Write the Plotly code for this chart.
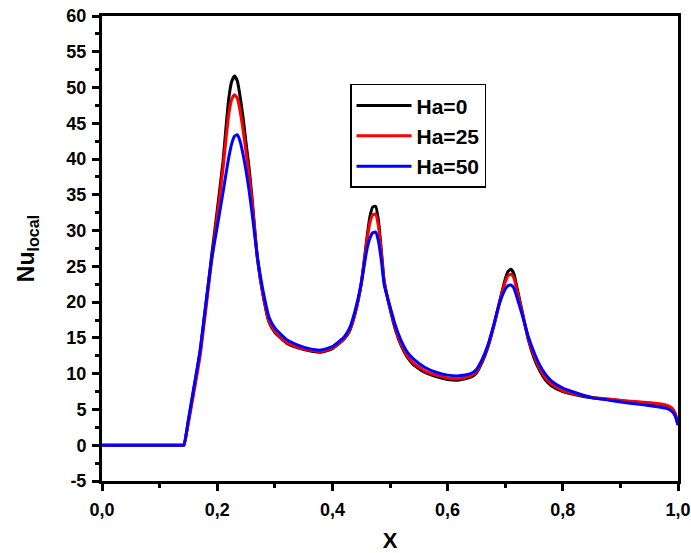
import plotly.graph_objects as go

x_vals = [0, 0.05, 0.10, 0.138, 0.142, 0.15, 0.16, 0.17, 0.18, 0.19, 0.20, 0.21, 0.215, 0.22, 0.225, 0.23,
          0.235, 0.24, 0.245, 0.25, 0.255, 0.26, 0.27, 0.28, 0.29, 0.30, 0.32, 0.34, 0.36, 0.38, 0.40,
          0.42, 0.43, 0.44, 0.45, 0.46, 0.465, 0.47, 0.475, 0.48, 0.485, 0.49, 0.50, 0.51, 0.52, 0.53,
          0.54, 0.56, 0.58, 0.60, 0.62, 0.64, 0.65, 0.66, 0.67, 0.68, 0.69, 0.70, 0.705, 0.71, 0.715,
          0.72, 0.73, 0.74, 0.75, 0.76, 0.77, 0.78, 0.80, 0.82, 0.85, 0.88, 0.91, 0.94, 0.97, 0.98,
          0.99, 0.995, 1.0]

nu_ha0 = [0, 0, 0, 0, 0, 3.4, 8.1, 12.9, 19.4, 26.3, 32.8, 39.6, 44.2, 48.4, 50.8, 51.6,
          50.9, 48.6, 45.8, 42.3, 39.0, 35.0, 26.0, 20.8, 17.2, 15.8, 14.3, 13.6, 13.2, 13.0, 13.5,
          14.8, 16.0, 18.6, 22.6, 29.0, 31.9, 33.3, 33.4, 31.4, 27.2, 22.9, 19.1, 16.0, 13.8, 12.3,
          11.3, 10.2, 9.6, 9.2, 9.1, 9.5, 10.1, 11.6, 13.7, 16.6, 20.0, 23.2, 24.3, 24.6, 24.0,
          22.2, 18.5, 14.8, 12.2, 10.4, 9.1, 8.3, 7.5, 7.1, 6.65, 6.4, 6.15, 5.95, 5.7, 5.55,
          5.1, 4.4, 2.9]

nu_ha25 = [0, 0, 0, 0, 0, 3.1, 7.6, 12.3, 18.8, 25.6, 32.0, 38.6, 42.6, 46.2, 48.3, 49.0,
           48.5, 46.6, 44.0, 41.0, 38.0, 34.5, 26.0, 20.9, 17.3, 15.9, 14.4, 13.7, 13.3, 13.1, 13.6,
           14.9, 16.1, 18.6, 22.5, 28.6, 31.1, 32.2, 32.3, 30.6, 26.8, 22.8, 19.2, 16.2, 14.0, 12.5,
           11.5, 10.4, 9.8, 9.4, 9.3, 9.7, 10.3, 11.8, 13.8, 16.6, 19.9, 22.8, 23.7, 23.9, 23.4,
           21.8, 18.4, 14.9, 12.5, 10.7, 9.4, 8.6, 7.6, 7.2, 6.7, 6.45, 6.2, 6.0, 5.75, 5.6,
           5.15, 4.45, 2.9]

nu_ha50 = [0, 0, 0, 0, 0, 3.6, 8.3, 13.1, 19.6, 25.8, 30.5, 35.3, 37.8, 40.2, 42.1, 43.2,
           43.4, 42.4, 40.6, 38.4, 35.8, 32.8, 26.2, 21.4, 17.9, 16.4, 14.8, 14.0, 13.5, 13.3, 13.8,
           15.1, 16.4, 19.0, 22.6, 27.4, 28.9, 29.7, 29.8, 28.5, 25.8, 22.4, 19.4, 16.6, 14.5, 13.0,
           12.1, 10.9, 10.2, 9.8, 9.7, 10.0, 10.6, 12.0, 14.0, 16.8, 19.8, 21.8, 22.3, 22.4, 22.0,
           20.8, 18.1, 15.2, 13.0, 11.2, 9.9, 9.0, 8.0, 7.4, 6.65, 6.3, 5.95, 5.65, 5.3, 5.15,
           4.7, 4.1, 2.8]

series_names = ["Ha=0", "Ha=25", "Ha=50"]
series_colors = ["#000000", "#ff0000", "#0000ff"]
series_values = [nu_ha0, nu_ha25, nu_ha50]

x_ticks = [0.0, 0.2, 0.4, 0.6, 0.8, 1.0]
x_tick_labels = ["0,0", "0,2", "0,4", "0,6", "0,8", "1,0"]
y_ticks = [-5, 0, 5, 10, 15, 20, 25, 30, 35, 40, 45, 50, 55, 60]
y_tick_labels = ["-5", "0", "5", "10", "15", "20", "25", "30", "35", "40", "45", "50", "55", "60"]

FONT = "Liberation Sans, Arial, sans-serif"

fig = go.Figure()
for name, color, vals in zip(series_names, series_colors, series_values):
    fig.add_trace(go.Scatter(
        x=x_vals, y=vals, mode="lines", name="<b>" + name + "</b>",
        line=dict(color=color, width=3, shape="spline", smoothing=0.5),
    ))

axis_common = dict(
    showline=True, linecolor="black", linewidth=3, mirror=True,
    ticks="outside", ticklen=7, tickwidth=3, tickcolor="black",
    showgrid=False, zeroline=False, automargin=False,
    tickfont=dict(family=FONT, size=18, color="black", weight="bold"),
)

fig.update_xaxes(
    **axis_common,
    range=[0, 1], tickvals=x_ticks, ticktext=["<b>" + t + "</b>" for t in x_tick_labels],
    ticklabelstandoff=3,
    minor=dict(ticks="outside", ticklen=4, tickwidth=3, tickcolor="black", dtick=0.1, tick0=0, showgrid=False),
    title=dict(text="<b>X</b>", font=dict(family=FONT, size=22, color="black", weight="bold"), standoff=22),
)
fig.update_yaxes(
    **axis_common,
    range=[-5, 60], tickvals=y_ticks, ticktext=["<b>" + t + "</b>" for t in y_tick_labels],
    ticklabelstandoff=2,
    minor=dict(ticks="outside", ticklen=4, tickwidth=3, tickcolor="black", dtick=2.5, tick0=0, showgrid=False),
    title=dict(text="<b>Nu<sub>local</sub></b>", font=dict(family=FONT, size=23, color="black", weight="bold"), standoff=26),
)

fig.update_layout(
    width=691, height=553,
    margin=dict(l=102, r=13, t=16, b=72),
    paper_bgcolor="white", plot_bgcolor="white",
    showlegend=True,
    legend=dict(
        x=0.4306, y=0.854, xanchor="left", yanchor="top",
        bordercolor="black", borderwidth=1.5, bgcolor="white",
        font=dict(family=FONT, size=21, color="black", weight="bold"),
        itemwidth=55, tracegroupgap=0,
    ),
)

fig.write_html("out.html")
